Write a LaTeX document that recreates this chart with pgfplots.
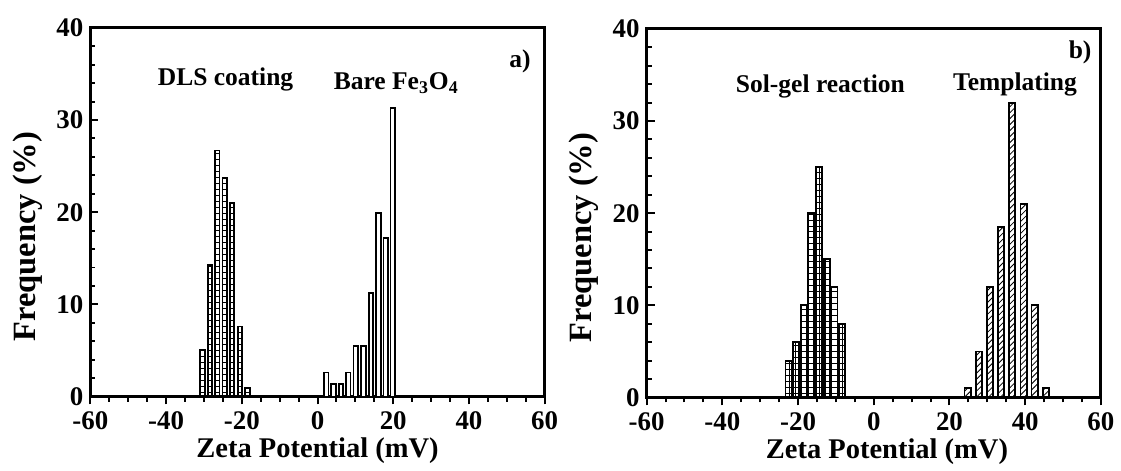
\documentclass[border=0pt]{standalone}
\usepackage{fontspec}
\setmainfont{Liberation Serif}
\usepackage{pgfplots}
\pgfplotsset{compat=1.18}
\usetikzlibrary{patterns}
\pgfplotsset{zstyle/.style={
  scale only axis, width=228pt, height=185pt,
  xmin=-60, xmax=60, ymin=0, ymax=40,
  xtick={-60,-40,-20,0,20,40,60}, xticklabels={-60,-40,-20,0,20,40,60},
  ytick={0,10,20,30,40}, yticklabels={0,10,20,30,40},
  minor x tick num=3, minor y tick num=4,
  tick align=inside, tick pos=left,
  major tick length=4pt, minor tick length=2.5pt,
  every tick/.style={line width=1pt, black},
  axis line style={line width=1.5pt},
  ticklabel style={font=\fontsize{13.5}{15}\selectfont\bfseries},
  xlabel style={font=\fontsize{14.3}{16}\selectfont\bfseries, at={(axis description cs:0.5,0)}, anchor=base, yshift=-30.5pt},
  ylabel style={font=\fontsize{16.3}{18}\selectfont\bfseries, at={(axis description cs:0,0.434)}, anchor=base, yshift=27.5pt},
  xlabel={Zeta Potential (mV)}, ylabel={Frequency (\%)},
  ybar, bar shift=0pt,
  every axis plot/.append style={draw=black, line width=0.9pt},
  clip=false,
}}
\begin{document}
\begin{tikzpicture}
\path (0,0) rectangle (560.5pt,233pt);
\begin{axis}[zstyle, at={(45.35pt,34pt)}, anchor=south west]
\addplot[bar width=1.2, pattern=horizontal lines] coordinates {
(-30.4,5.1) (-28.4,14.3) (-26.5,26.7) (-24.5,23.7) (-22.6,21.0) (-20.5,7.6) (-18.5,0.9)};
\addplot[bar width=1.2, fill=white] coordinates {
(2.3,2.6) (4.2,1.4) (6.2,1.4) (8.1,2.6) (10.1,5.5) (12.1,5.5) (14.1,11.2) (16.1,19.9) (18.0,17.2) (19.9,31.3)};
\node[font=\fontsize{12.8}{15}\selectfont\bfseries] at (axis cs:-24.3,34.4) {DLS coating};
\node[font=\fontsize{12.8}{15}\selectfont\bfseries] at (axis cs:20.8,34.0) {Bare Fe\textsubscript{3}O\textsubscript{4}};
\node[font=\fontsize{12.8}{15}\selectfont\bfseries] at (axis cs:53.5,36.4) {a)};
\end{axis}
\begin{axis}[zstyle, at={(324.5pt,33.5pt)}, anchor=south west,
  xlabel style={at={(axis description cs:0.529,0)}}]
\addplot[bar width=1.6, pattern=grid] coordinates {
(-22.5,4) (-20.5,6) (-18.5,10) (-16.5,20) (-14.4,25) (-12.4,15) (-10.4,12) (-8.3,8)};
\addplot[bar width=1.7, pattern=north east lines] coordinates {
(24.8,1) (27.8,5) (30.7,12) (33.6,18.5) (36.5,32) (39.6,21) (42.5,10) (45.5,1)};
\node[font=\fontsize{12.8}{15}\selectfont\bfseries] at (axis cs:-14.1,33.7) {Sol-gel reaction};
\node[font=\fontsize{12.8}{15}\selectfont\bfseries] at (axis cs:37.3,34.0) {Templating};
\node[font=\fontsize{12.8}{15}\selectfont\bfseries] at (axis cs:54.5,37.4) {b)};
\end{axis}
\end{tikzpicture}
\end{document}
